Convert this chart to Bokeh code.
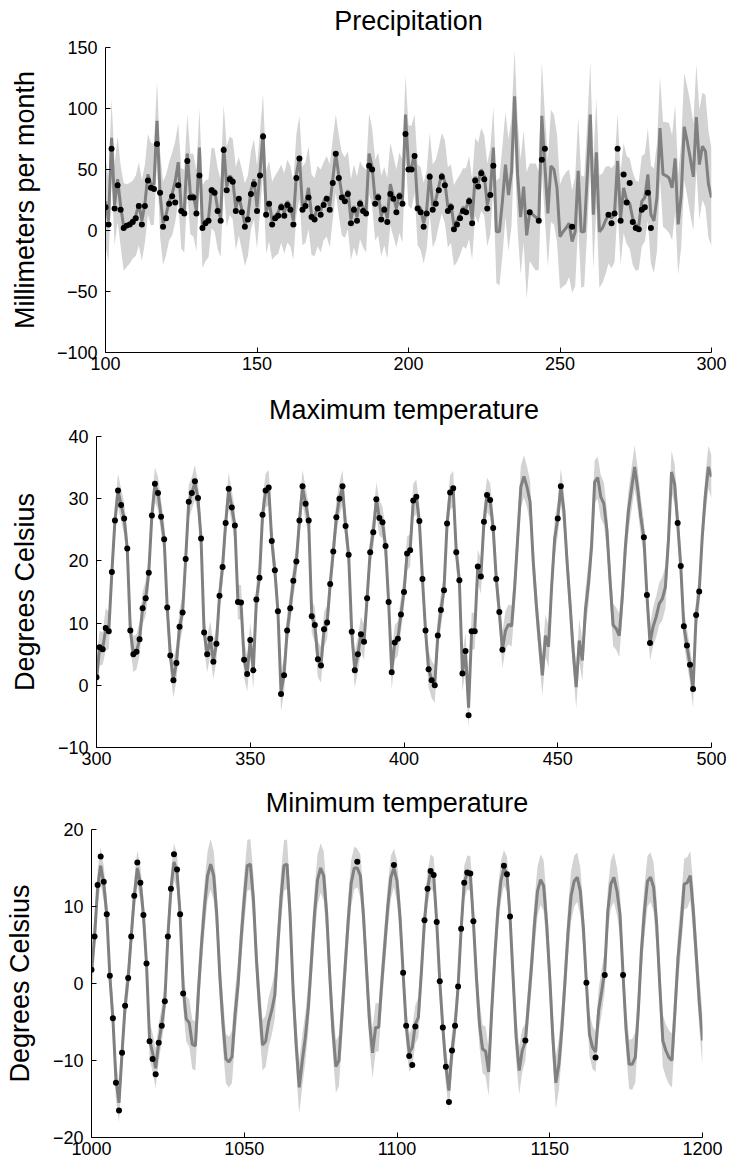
from bokeh.plotting import figure
from bokeh.layouts import column
from bokeh.models import Range1d, FixedTicker
from bokeh.core.properties import value
from bokeh.embed import file_html
from bokeh.resources import INLINE

N = None
FONT = "Liberation Sans"

# ---------------- Precipitation (months 100..300) ----------------
p1_months = list(range(100, 301))
p1_obs = [
    19, 5, 67, 18, 37, 17, 2, 4, 5, 7,
    10, 20, 5, 20, 41, 35, 34, 71, 31, 3,
    10, 22, 28, 23, 37, 16, 14, 57, 27, 27,
    14, 45, 2, 6, 8, 33, 31, 16, 8, 66,
    33, 42, 40, 16, 26, 15, 3, 9, 30, 38,
    16, 45, 77, 13, 22, 5, 10, 12, 19, 12,
    21, 17, 5, 43, 59, 17, 20, 27, 11, 9,
    18, 13, 21, 26, 17, 39, 63, 43, 27, 24,
    30, 6, 17, 8, 22, 16, 14, 53, 50, 22,
    27, 9, 17, 7, 30, 26, 15, 28, 22, 79,
    50, 50, 61, 18, 15, 3, 14, 44, 17, 22,
    33, 44, 37, 16, 19, 1, 5, 10, 16, 15,
    24, 6, 41, 36, 47, 42, 18, 29, 53, N,
    N, N, N, N, N, N, N, N, N, N,
    15, N, N, 8, 58, 67, N, N, N, N,
    N, N, N, N, 3, N, N, N, N, N,
    N, N, N, N, N, N, 13, 6, 14, 67,
    8, 46, 23, 39, 7, 2, 1, 17, 19, 31,
    2, N, N, N, N, N, N, N, N, N,
    N, N, N, N, N, N, N, N, N, N,
    N,
]
p1_mean = [
    24, 8, 76, 21, 42, 20, 3, 4, 6, 9,
    12, 22, 8, 22, 46, 38, 38, 90, 30, 6,
    13, 24, 30, 40, 56, 18, 16, 63, 30, 29,
    16, 68, 3, 8, 10, 35, 33, 18, 10, 69,
    36, 45, 42, 18, 28, 17, 5, 12, 33, 42,
    19, 48, 80, 15, 24, 8, 12, 15, 22, 14,
    24, 20, 8, 46, 60, 20, 23, 35, 13, 11,
    20, 16, 24, 28, 20, 42, 63, 45, 30, 27,
    33, 9, 20, 11, 25, 19, 16, 63, 52, 25,
    30, 12, 20, 10, 38, 28, 18, 31, 24, 95,
    53, 52, 63, 21, 18, 6, 17, 47, 20, 25,
    36, 47, 40, 19, 22, 4, 8, 13, 19, 18,
    27, 9, 44, 39, 50, 45, 21, 32, 68, -1,
    -1, 24, 54, 29, 48, 110, 46, 11, 36, -4,
    15, 13, 11, 8, 94, 53, 14, 53, 50, 35,
    -5, -1, 2, 6, -9, -1, 49, -1, -1, 45,
    95, 13, 64, -1, 2, 8, 13, 10, 14, 57,
    10, 35, 25, 22, 10, 4, 4, 24, 27, 46,
    13, 8, 27, 84, 46, 45, 43, 35, 59, 5,
    29, 85, 73, 59, 44, 93, 54, 69, 65, 38,
    27,
]
p1_half = [
    36, 34, 32, 33, 35, 33, 36, 34, 33, 32,
    33, 34, 33, 32, 33, 34, 33, 32, 35, 34,
    33, 32, 34, 33, 32, 33, 34, 32, 33, 34,
    33, 32, 34, 33, 32, 33, 34, 33, 32, 34,
    33, 32, 33, 34, 32, 33, 34, 33, 32, 33,
    34, 33, 32, 34, 33, 32, 33, 34, 32, 33,
    34, 33, 32, 33, 34, 32, 33, 34, 33, 32,
    33, 34, 32, 33, 34, 33, 32, 33, 34, 33,
    32, 33, 34, 33, 32, 33, 34, 33, 32, 33,
    34, 33, 32, 33, 34, 33, 32, 33, 34, 32,
    33, 34, 32, 33, 34, 33, 32, 33, 34, 33,
    32, 33, 34, 33, 32, 33, 34, 33, 32, 33,
    34, 33, 32, 33, 34, 33, 34, 35, 33, 42,
    44, 45, 43, 46, 44, 38, 45, 47, 46, 52,
    40, 42, 44, 40, 45, 42, 44, 46, 45, 44,
    43, 45, 46, 44, 42, 45, 44, 46, 45, 44,
    43, 45, 44, 46, 45, 44, 40, 41, 40, 39,
    38, 37, 36, 37, 38, 37, 36, 37, 36, 38,
    40, 43, 44, 42, 43, 44, 45, 43, 44, 41,
    43, 44, 45, 46, 44, 43, 45, 44, 46, 44,
    40,
]

# ---------------- Maximum temperature (months 300..500) ----------------
p2_months = list(range(300, 501))
p2_obs = [
    1.3, 6.1, 5.8, 9.2, 8.7, 18.2, 26.5, 31.3, 29.0, 26.8,
    22.0, 8.8, 5.0, 5.4, 7.4, 12.4, 14.0, 18.1, 27.3, 32.4,
    30.9, 27.1, 23.5, 12.5, 4.8, 0.8, 3.6, 9.4, 11.7, 20.3,
    29.5, 30.9, 32.8, 30.1, 23.6, 8.5, 5.0, 7.5, 3.8, 6.7,
    14.4, 19.0, 26.1, 31.6, 28.6, 25.7, 13.4, 13.3, 4.1, 1.8,
    7.3, 2.4, 13.8, 17.3, 27.4, 31.3, 31.8, 23.2, 18.5, 11.9,
    -1.4, 1.6, 8.8, 12.4, 16.8, 19.9, 26.5, 32.0, 29.2, 26.5,
    11.1, 9.7, 4.2, 3.2, 9.0, 10.1, 16.3, 21.5, 27.0, 30.0,
    32.0, 25.6, 21.0, 8.6, 2.4, 5.0, 8.2, 7.0, 14.0, 21.4,
    24.6, 29.9, 26.9, 26.2, 22.4, 13.4, 2.1, 6.9, 7.5, 11.4,
    15.0, 21.2, 21.7, 29.7, 30.3, 26.4, 17.1, 8.8, 2.6, 0.8,
    0.0, 8.0, 12.1, 15.3, 26.0, 31.0, 31.7, 21.4, 16.9, 1.9,
    5.5, -4.8, 8.7, 8.7, 19.1, 17.5, 26.3, 30.6, 29.8, 25.3,
    17.1, 11.8, 5.7, N, N, N, N, N, N, N,
    N, N, N, N, N, N, N, N, N, N,
    26.8, 32.0, N, N, N, N, N, N, N, N,
    N, N, N, N, N, N, N, N, N, N,
    N, N, N, N, N, N, N, N, 23.8, 14.5,
    6.8, N, N, N, N, N, N, N, N, 26.1,
    19.2, 9.5, 6.4, 3.3, -0.6, 11.3, 15.1, N, N, N,
    N,
]
p2_mean = [
    1.0, 6.0, 5.9, 9.0, 8.8, 18.2, 26.5, 31.3, 29.0, 26.8,
    22.0, 8.8, 5.0, 5.4, 7.4, 12.4, 14.0, 18.1, 27.3, 32.2,
    30.9, 27.1, 23.5, 12.5, 4.8, 1.0, 3.6, 9.4, 11.7, 20.3,
    29.5, 30.9, 32.6, 30.1, 23.6, 8.5, 5.0, 7.5, 3.9, 6.7,
    14.4, 19.0, 26.1, 31.4, 28.6, 25.7, 13.4, 13.3, 4.1, 1.9,
    7.2, 2.5, 13.8, 17.3, 27.4, 31.3, 31.8, 23.2, 18.5, 11.9,
    -1.0, 1.7, 8.8, 12.4, 16.8, 19.9, 26.5, 31.8, 29.2, 26.5,
    11.1, 9.7, 4.2, 3.3, 9.0, 10.1, 16.3, 21.5, 27.0, 30.0,
    31.8, 25.6, 21.0, 8.6, 2.5, 5.0, 8.2, 7.0, 14.0, 21.4,
    24.6, 29.9, 26.9, 26.2, 22.4, 13.4, 2.3, 6.9, 7.5, 11.4,
    15.0, 21.2, 21.7, 29.7, 30.3, 26.4, 17.1, 8.8, 2.6, 0.9,
    0.2, 8.0, 12.1, 15.3, 26.0, 31.0, 31.6, 21.4, 16.9, 2.0,
    5.5, -3.6, 8.7, 8.7, 19.1, 17.5, 26.3, 30.6, 29.8, 25.3,
    17.1, 11.8, 5.7, 8.8, 9.8, 9.5, 15.8, 23.9, 31.9, 33.6,
    31.9, 29.5, 20.1, 13.1, 7.2, 1.6, 8.0, 6.2, 15.8, 23.6,
    26.8, 32.0, 28.1, 20.1, 13.1, 5.6, -0.3, 7.2, 4.0, 12.1,
    16.4, 22.3, 32.7, 33.4, 30.3, 29.2, 24.9, 16.9, 9.7, 9.1,
    8.0, 14.2, 22.3, 28.1, 31.6, 35.1, 31.6, 27.1, 23.8, 14.5,
    6.8, 9.4, 11.0, 13.1, 13.9, 15.8, 23.3, 34.3, 32.4, 26.1,
    19.2, 9.5, 6.4, 3.3, -0.6, 11.3, 15.1, 24.0, 30.5, 35.1,
    33.5,
]
p2_half = [
    3.2, 2.8, 2.6, 3.4, 3.0, 2.6, 2.6, 2.7, 2.6, 2.6,
    2.7, 2.8, 2.9, 2.8, 2.7, 2.6, 2.8, 2.7, 2.6, 2.8,
    2.6, 2.6, 2.7, 2.8, 2.8, 3.0, 2.9, 2.8, 2.7, 2.6,
    2.7, 2.6, 2.8, 2.6, 2.7, 2.8, 2.9, 2.8, 2.9, 2.8,
    2.7, 2.6, 2.6, 2.8, 2.6, 2.7, 2.8, 2.8, 2.9, 2.9,
    2.8, 3.0, 2.7, 2.6, 2.6, 2.7, 2.8, 2.7, 2.6, 2.7,
    3.2, 2.9, 2.8, 2.6, 2.6, 2.7, 2.6, 2.8, 2.7, 2.6,
    2.7, 2.8, 2.9, 2.9, 2.8, 2.7, 2.6, 2.6, 2.7, 2.6,
    2.8, 2.6, 2.7, 2.8, 2.9, 2.8, 2.8, 2.9, 2.7, 2.6,
    2.6, 2.7, 2.8, 2.6, 2.7, 2.8, 2.9, 2.8, 2.8, 2.7,
    2.6, 2.7, 2.6, 2.7, 2.8, 2.6, 2.7, 2.8, 2.9, 3.0,
    3.0, 2.8, 2.7, 2.6, 2.7, 2.8, 2.9, 2.7, 2.8, 3.0,
    3.0, 3.3, 3.0, 2.9, 2.7, 2.8, 2.7, 2.8, 2.7, 2.6,
    2.7, 2.8, 2.9, 3.1, 3.2, 3.3, 3.3, 3.4, 3.4, 3.4,
    3.3, 3.4, 3.3, 3.3, 3.2, 3.3, 3.4, 3.3, 3.2, 3.0,
    2.8, 2.8, 3.0, 3.2, 3.3, 3.3, 3.4, 3.4, 3.3, 3.3,
    3.4, 3.3, 3.4, 3.4, 3.5, 3.4, 3.3, 3.3, 3.4, 3.4,
    3.5, 3.4, 3.3, 3.3, 3.4, 3.5, 3.3, 3.1, 2.8, 2.8,
    2.9, 3.1, 3.3, 3.4, 3.5, 3.4, 3.3, 3.4, 3.2, 2.9,
    2.8, 2.7, 2.8, 2.9, 3.0, 2.8, 2.8, 3.1, 3.3, 3.4,
    3.5,
]

# ---------------- Minimum temperature (months 1000..1200) ----------------
p3_months = list(range(1000, 1201))
p3_obs = [
    1.8, 6.1, 12.8, 16.5, 13.2, 9.0, 1.0, -4.5, -12.9, -16.5,
    -9.0, -2.9, 0.7, 6.1, 11.4, 15.7, 13.1, 8.9, 2.6, -7.5,
    -9.8, -11.8, -7.7, -5.5, -2.3, 6.1, 12.3, 16.8, 14.8, 9.0,
    -1.3, N, N, N, N, N, N, N, N, N,
    N, N, N, N, N, N, N, N, N, N,
    N, N, N, N, N, N, N, N, N, N,
    N, N, N, N, N, N, N, N, N, N,
    N, N, N, N, N, N, N, N, N, N,
    N, N, N, N, N, N, N, 15.8, N, N,
    N, N, N, N, N, N, N, N, N, 15.4,
    N, N, 1.4, -5.5, -9.4, -10.6, -5.6, N, N, 8.2,
    12.3, 14.6, 14.1, 8.0, 0.3, -5.7, -10.8, -15.4, -8.7, -5.5,
    -0.4, 7.1, 13.1, 14.4, 14.3, 8.1, N, N, N, N,
    N, N, N, N, N, 15.3, 14.2, 8.7, N, N,
    N, N, -7.4, N, N, N, N, N, N, N,
    N, N, N, N, N, N, N, N, N, N,
    N, N, 0.1, N, N, -9.6, N, N, 1.1, N,
    N, N, N, N, 1.1, N, N, N, N, N,
    N, N, N, N, N, N, N, N, N, N,
    N, N, N, N, N, N, N, N, N, N,
    N,
]
p3_mean = [
    1.5, 6.0, 12.5, 15.3, 13.0, 9.0, 1.0, -4.5, -12.5, -15.5,
    -9.0, -2.9, 0.7, 6.1, 11.3, 15.0, 13.0, 8.9, 2.6, -7.3,
    -9.0, -11.0, -7.7, -5.3, -2.3, 6.1, 12.3, 15.8, 14.5, 9.0,
    -0.5, -4.6, -5.1, -7.9, -8.1, -1.0, 5.0, 10.0, 14.0, 15.5,
    14.0, 9.0, 1.0, -5.0, -9.8, -10.2, -9.5, -4.0, 0.0, 6.0,
    11.0, 15.3, 15.5, 11.0, 3.0, -3.0, -8.0, -7.5, -5.0, -3.5,
    -1.5, 5.0, 11.0, 15.3, 15.5, 9.0, -1.0, -8.0, -13.5, -10.0,
    -7.0, -3.0, 3.0, 9.0, 13.5, 15.0, 14.0, 9.0, 1.0, -6.0,
    -10.8, -10.0, -4.0, 2.0, 8.0, 13.0, 15.0, 15.0, 14.0, 9.0,
    2.0, -5.0, -9.0, -5.7, -5.7, 0.0, 5.0, 10.0, 13.8, 15.0,
    13.3, 8.6, 1.4, -5.5, -9.0, -8.3, -5.3, -4.4, 1.6, 8.2,
    12.3, 14.6, 14.1, 8.0, 0.3, -5.7, -10.8, -13.9, -8.7, -5.5,
    -0.4, 7.1, 13.1, 14.4, 14.3, 8.1, 0.8, -5.3, -8.5, -8.8,
    -11.5, -3.5, 3.4, 9.4, 13.3, 15.0, 14.2, 8.7, 0.8, -7.0,
    -11.3, -8.7, -7.6, -2.7, 2.1, 7.7, 12.0, 13.5, 12.7, 7.7,
    0.8, -7.0, -12.9, -10.5, -5.7, 0.3, 6.8, 11.4, 13.3, 13.8,
    12.0, 7.3, 0.1, -6.6, -8.3, -8.9, -3.5, -1.0, 1.6, 9.4,
    12.9, 13.8, 12.0, 9.0, 1.1, -6.1, -10.5, -10.5, -9.6, -3.5,
    4.2, 9.4, 13.3, 13.8, 12.5, 7.7, -0.1, -7.4, -8.7, -9.6,
    -10.0, -3.5, 3.4, 7.7, 12.9, 13.1, 14.0, 9.4, 3.4, -2.7,
    -7.4,
]
p3_half = [
    3.5, 2.5, 2.3, 2.4, 2.3, 2.2, 2.3, 2.4, 2.5, 2.6,
    2.4, 2.3, 2.2, 2.3, 2.2, 2.3, 2.2, 2.3, 2.4, 2.4,
    2.5, 2.6, 2.4, 2.3, 2.4, 2.3, 2.2, 2.4, 2.3, 2.4,
    2.6, 2.9, 3.1, 3.2, 3.2, 3.3, 3.2, 3.1, 3.2, 3.3,
    3.2, 3.1, 3.2, 3.3, 3.2, 3.3, 3.4, 3.2, 3.1, 3.2,
    3.2, 3.3, 3.3, 3.2, 3.1, 3.2, 3.3, 3.3, 3.2, 3.2,
    3.1, 3.2, 3.3, 3.3, 3.2, 3.1, 3.2, 3.3, 3.4, 3.3,
    3.2, 3.1, 3.2, 3.2, 3.3, 3.2, 3.2, 3.1, 3.2, 3.3,
    3.4, 3.3, 3.2, 3.1, 3.1, 3.0, 2.8, 2.5, 2.8, 3.0,
    3.1, 3.2, 3.3, 3.2, 3.1, 3.0, 3.0, 2.9, 2.8, 2.5,
    2.7, 2.8, 2.4, 2.4, 2.5, 2.6, 2.5, 2.6, 2.5, 2.3,
    2.2, 2.2, 2.3, 2.2, 2.3, 2.2, 2.4, 2.6, 2.4, 2.3,
    2.2, 2.3, 2.2, 2.2, 2.3, 2.4, 2.8, 3.0, 3.1, 3.2,
    3.1, 3.0, 2.9, 2.8, 2.6, 2.3, 2.3, 2.4, 2.8, 3.0,
    3.1, 2.8, 2.4, 2.8, 3.0, 3.1, 3.2, 3.3, 3.3, 3.2,
    3.2, 3.3, 3.4, 3.3, 3.2, 3.1, 3.2, 3.3, 3.3, 3.2,
    3.1, 2.9, 2.5, 2.8, 2.8, 2.6, 2.8, 2.9, 2.6, 2.9,
    3.1, 3.2, 3.1, 2.9, 2.6, 2.9, 3.2, 3.3, 3.3, 3.2,
    3.2, 3.3, 3.3, 3.2, 3.2, 3.3, 3.3, 3.4, 3.4, 3.5,
    3.5, 3.4, 3.3, 3.2, 3.3, 3.3, 3.2, 3.3, 3.3, 3.4,
    3.5,
]

titles = ["Precipitation", "Maximum temperature", "Minimum temperature"]
ylabels = ["Millimeters per month", "Degrees Celsius", "Degrees Celsius"]
p1_xticks = [100, 150, 200, 250, 300]
p1_yticks = [-100, -50, 0, 50, 100, 150]
p2_xticks = [300, 350, 400, 450, 500]
p2_yticks = [-10, 0, 10, 20, 30, 40]
p3_xticks = [1000, 1050, 1100, 1150, 1200]
p3_yticks = [-20, -10, 0, 10, 20]

W = 731


def title_strip(text, height, center_x, mid_from_bottom):
    t = figure(frame_width=W, frame_height=height, width=W, height=height,
               x_range=Range1d(0, W), y_range=Range1d(0, height),
               x_axis_type=None, y_axis_type=None,
               output_backend="svg", toolbar_location=None, tools="",
               min_border_left=0, min_border_right=0,
               min_border_top=0, min_border_bottom=0, frame_align=False)
    t.grid.visible = False
    t.outline_line_color = None
    t.background_fill_color = "white"
    t.border_fill_color = "white"
    t.text(x=[center_x], y=[mid_from_bottom], text=[text],
           text_align="center", text_baseline="middle",
           text_font=value(FONT), text_font_size="27px", text_color="black")
    return t


def panel(ylabel, months, mean, half, obs, xticks, yticks,
          fw, fh, bl, br, bt, bb, lab_std):
    lower = [m - h for m, h in zip(mean, half)]
    upper = [m + h for m, h in zip(mean, half)]
    p = figure(frame_width=fw, frame_height=fh,
               width=bl + fw + br, height=bt + fh + bb,
               x_range=Range1d(xticks[0], xticks[-1]),
               y_range=Range1d(yticks[0], yticks[-1]),
               output_backend="svg", toolbar_location=None, tools="",
               min_border_left=bl, min_border_right=br,
               min_border_top=bt, min_border_bottom=bb,
               frame_align=False)

    p.varea(x=months, y1=lower, y2=upper, fill_color="#d3d3d3", fill_alpha=1.0)
    p.line(months, mean, line_color="#808080", line_width=3)
    ox = [m for m, v in zip(months, obs) if v is not None]
    oy = [v for v in obs if v is not None]
    p.scatter(ox, oy, size=6, fill_color="black", line_color=None)

    p.xgrid.visible = False
    p.ygrid.visible = False
    p.outline_line_color = None
    p.background_fill_color = "white"
    p.border_fill_color = "white"

    for ax in (p.xaxis[0], p.yaxis[0]):
        ax.axis_line_color = "black"
        ax.axis_line_width = 1
        ax.major_tick_in = 5
        ax.major_tick_out = 0
        ax.major_tick_line_color = "black"
        ax.minor_tick_line_color = None
        ax.major_label_text_font = FONT
        ax.major_label_text_font_size = "18px"
        ax.major_label_text_color = "black"
    p.xaxis.ticker = FixedTicker(ticks=xticks)
    p.yaxis.ticker = FixedTicker(ticks=yticks)
    p.yaxis.major_label_overrides = {t: "\u2212" + str(-t) for t in yticks if t < 0}
    p.xaxis.major_label_standoff = 4
    p.yaxis.major_label_standoff = 8
    p.yaxis.axis_label = ylabel
    p.yaxis.axis_label_text_font = FONT
    p.yaxis.axis_label_text_font_size = "27px"
    p.yaxis.axis_label_text_font_style = "normal"
    p.yaxis.axis_label_text_color = "black"
    p.yaxis.axis_label_standoff = lab_std
    return p


t1 = title_strip(titles[0], 37, 105 + 606 / 2, 16.5)
f1 = panel(ylabels[0], p1_months, p1_mean, p1_half, p1_obs,
           p1_xticks, p1_yticks, 606, 305, 105, 20, 10, 38, 14)
t2 = title_strip(titles[1], 36, 96 + 615 / 2, 16.7)
f2 = panel(ylabels[1], p2_months, p2_mean, p2_half, p2_obs,
           p2_xticks, p2_yticks, 615, 311, 96, 20, 10, 35, 15)
t3 = title_strip(titles[2], 37, 91 + 611 / 2, 16.3)
f3 = panel(ylabels[2], p3_months, p3_mean, p3_half, p3_obs,
           p3_xticks, p3_yticks, 611, 308, 91, 29, 10, 34, 15)

layout = column(t1, f1, t2, f2, t3, f3, spacing=0)
open("out.html", "w").write(file_html(layout, INLINE))
